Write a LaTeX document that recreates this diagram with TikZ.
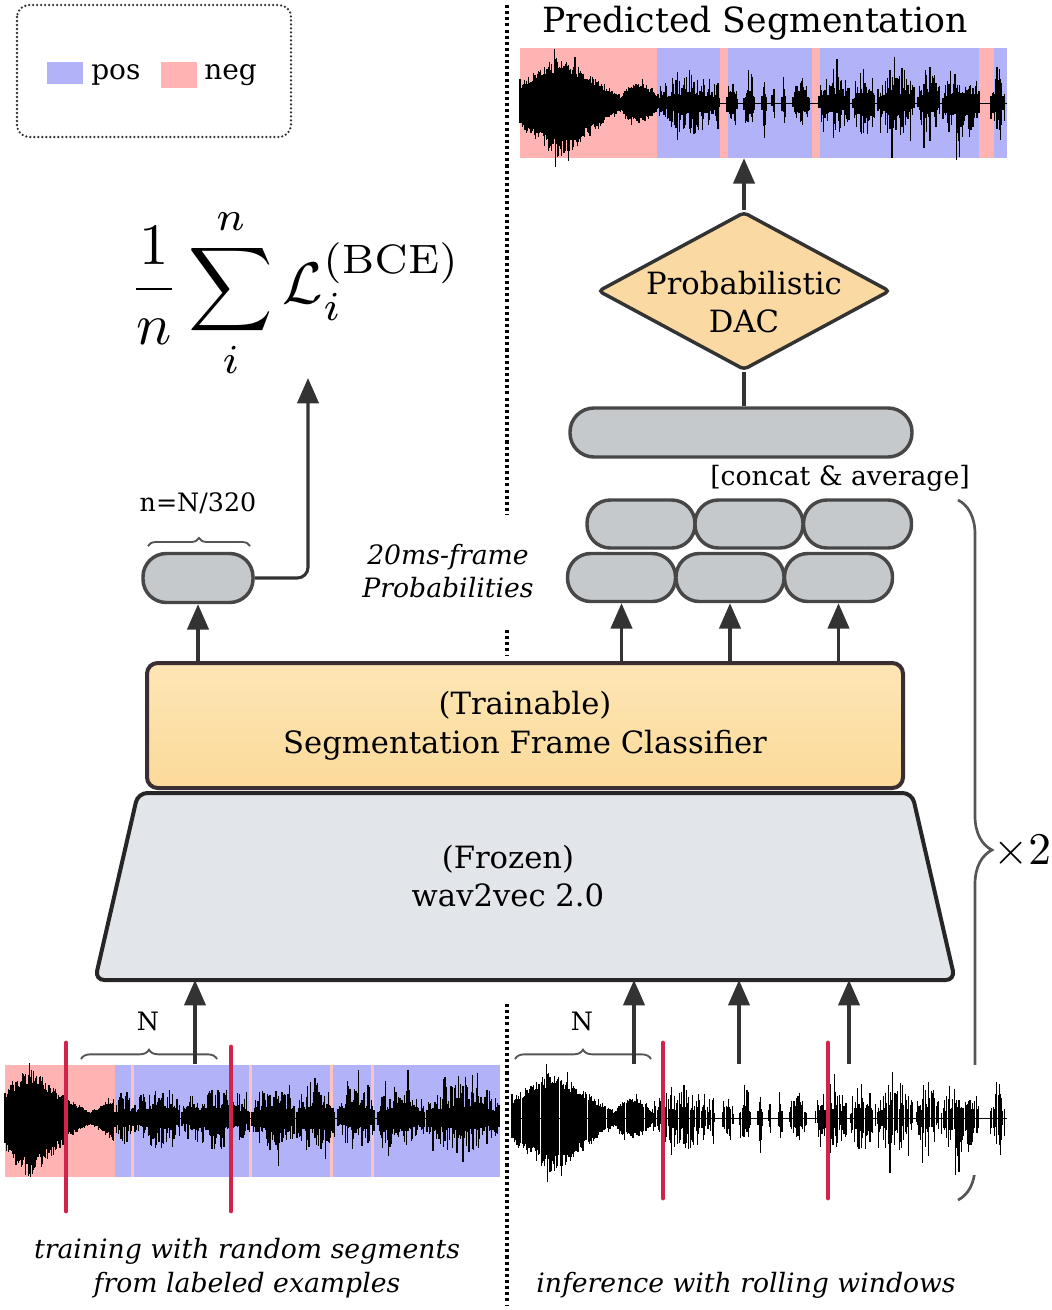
\documentclass[tikz,border=0pt]{standalone}
\usepackage{graphicx}
\usepackage[no-math]{fontspec}
\setmainfont{DejaVu Serif}
\usetikzlibrary{shapes.geometric,arrows.meta,decorations.pathreplacing,calc}
\definecolor{posc}{HTML}{B2B2F8}
\definecolor{negc}{HTML}{FFB3B3}
\definecolor{capf}{HTML}{C6C9CC}
\definecolor{edge}{HTML}{474747}
\definecolor{clfe}{HTML}{3A2E33}
\definecolor{clff}{HTML}{FCDFA2}
\definecolor{dacf}{HTML}{FADAA2}
\definecolor{w2vf}{HTML}{E2E5EA}
\definecolor{redl}{HTML}{D3234A}
\definecolor{arrc}{HTML}{333333}
\definecolor{brc}{HTML}{555555}

% waveform "A": sung intro then speech bursts (local width 487)
\newcommand\waveA[4]{%
\begin{scope}[shift={(#1,#3)},xscale=#2/487]
\pgfmathsetseed{#4}
\draw[line width=0.6pt] (0,0) -- (487,0);
\foreach \x in {0,1.1,...,138}{
  \pgfmathsetmacro\env{\x<100 ? 9+38*max(0,1-abs(\x-40)/58) : 7+13*sin((\x-100)/38*180)}
  \pgfmathsetmacro\ua{\env*(0.7+0.35*rnd)*(rnd>0.93 ? 1.25 : 1)}
  \pgfmathsetmacro\da{\env*(0.75+0.35*rnd)*(\x<100 ? 1.12 : 1)*(rnd>0.93 ? 1.2 : 1)}
  \draw[wavel] (\x,-\ua) -- (\x,\da);
}
\foreach \a/\b/\h in {138/200/34,207/218/32,224/235/34,242/247/26,252/255/24,262/266/28,273/290/32,299/330/36,333/355/38,358/395/38,398/420/36,423/459/40,471/485/38}{
  \pgfmathsetmacro\ae{\a+1.2}
  \foreach \x in {\a,\ae,...,\b}{
    \pgfmathsetmacro\s{0.45+0.55*sin((\x-\a)/(\b-\a+0.01)*180)}
    \pgfmathsetmacro\ua{\h*\s*(0.25+0.75*rnd^1.5)*(rnd>0.9 ? 1.4 : 1)}
    \pgfmathsetmacro\da{\h*\s*(0.25+0.75*rnd^1.5)*(rnd>0.88 ? 1.6 : 1)}
    \draw[wavel] (\x,-\ua) -- (\x,\da);
  }
}
\end{scope}}

% waveform "B": training example (local width 495)
\newcommand\waveB[3]{%
\begin{scope}[shift={(#1,#2)}]
\pgfmathsetseed{#3}
\draw[line width=0.6pt] (0,0) -- (495,0);
\foreach \x in {0,1.1,...,110}{
  \pgfmathsetmacro\env{\x<60 ? 18+32*max(0,1-abs(\x-25)/38) : 6+16*abs((\x-85)/25)}
  \pgfmathsetmacro\ua{\env*(0.7+0.35*rnd)*(rnd>0.93 ? 1.25 : 1)}
  \pgfmathsetmacro\da{\env*(0.75+0.35*rnd)*(\x<60 ? 1.12 : 1)}
  \draw[wavel] (\x,-\ua) -- (\x,\da);
}
\foreach \a/\b/\h in {110/128/28,130/175/32,177/245/32,247/290/34,292/330/36,333/370/32,373/420/34,422/495/36}{
  \pgfmathsetmacro\ae{\a+1.2}
  \foreach \x in {\a,\ae,...,\b}{
    \pgfmathsetmacro\s{0.55+0.45*sin((\x-\a)/(\b-\a+0.01)*180)}
    \pgfmathsetmacro\ua{\h*\s*(0.3+0.7*rnd^1.5)*(rnd>0.9 ? 1.5 : 1)}
    \pgfmathsetmacro\da{\h*\s*(0.3+0.7*rnd^1.5)*(rnd>0.9 ? 1.5 : 1)}
    \draw[wavel] (\x,-\ua) -- (\x,\da);
  }
}
\end{scope}}

\begin{document}
\begin{tikzpicture}[x=0.75pt,y=-0.75pt,
  arr/.style={draw=arrc, line width=2.3pt, -{Triangle[width=16pt,length=19pt]}},
  capsule/.style={draw=edge, line width=2.6pt, fill=capf, rounded corners=17.5pt, minimum width=81pt, minimum height=36pt, inner sep=0pt},
  wavel/.style={line width=0.8pt, black},
  redbar/.style={draw=redl, line width=3.6pt, line cap=round},
  br/.style={draw=brc, line width=1.4pt, decorate, decoration={brace, amplitude=#1}},
  dotsep/.style={line width=2.5pt, dash pattern=on 2.3pt off 2.3pt},
  txt/.style={inner sep=0pt, font=\fontsize{23}{29}\selectfont, align=center},
  itxt/.style={inner sep=0pt, font=\fontsize{20}{25}\selectfont\itshape, align=center},
]
\useasboundingbox (0,0) rectangle (1052,1310);

% ---------- legend ----------
\draw[line width=1.9pt, draw=black!80, dash pattern=on 0pt off 3pt, line cap=round, rounded corners=9pt] (17,5) rectangle (291,137);
\node[fill=posc, minimum width=27pt, minimum height=17pt, inner sep=0pt] (sp) at (65,73) {};
\node[fill=negc, minimum width=27pt, minimum height=20pt, inner sep=0pt] (sn) at (179,75) {};
\node[inner sep=0pt, font=\fontsize{21}{25}\selectfont, anchor=west] (tpos) at (91,75) {pos};
\node[inner sep=0pt, font=\fontsize{21}{25}\selectfont, anchor=west] (tneg) at (204,75) {neg};

% ---------- separators ----------
\draw[dotsep] (507,5) -- (507,515);
\draw[dotsep] (507,630) -- (507,655);
\draw[dotsep] (507,1004) -- (507,1306);

% ---------- x2 brace (behind right waveform) ----------
\draw[br=25.5pt, line width=2pt] (958,500) -- (958,1200);
\node[inner sep=0pt] (times) at (1022,852) {\scalebox{3.4}{$\times 2$}};

% ---------- predicted segmentation ----------
\node[inner sep=0pt, font=\fontsize{26}{32}\selectfont] (title) at (755,23) {Predicted Segmentation};
\fill[negc] (520,48) rectangle (657,158);
\fill[posc] (657,48) rectangle (720,158);
\fill[negc] (720,48) rectangle (728,158);
\fill[posc] (728,48) rectangle (812,158);
\fill[negc] (812,48) rectangle (820,158);
\fill[posc] (820,48) rectangle (979,158);
\fill[negc] (979,48) rectangle (994,158);
\fill[posc] (994,48) rectangle (1007,158);
\waveA{520}{487}{103}{11}
\node[minimum width=365.25pt, minimum height=82.5pt, inner sep=0pt] (pred) at (763.5,103) {};

% ---------- bottom-left training waveform ----------
\fill[negc] (5,1065) rectangle (115,1177);
\fill[posc] (115,1065) rectangle (500,1177);
\foreach \s in {131,249,330,371}{\fill[negc!80!white] (\s,1065) rectangle ++(3,112);}
\waveB{5}{1118}{5}
\node[minimum width=371.25pt, minimum height=84pt, inner sep=0pt] (wavL) at (252.5,1121) {};
\draw[redbar] (66,1043) -- (66,1211);
\draw[redbar] (231,1047) -- (231,1211);

% ---------- bottom-right inference waveform ----------
\fill[white] (512,1065) rectangle (1007,1175);
\waveA{512}{495}{1118}{11}
\node[minimum width=371.25pt, minimum height=82.5pt, inner sep=0pt] (wavR) at (759.5,1120) {};
\draw[redbar] (663,1043) -- (663,1198);
\draw[redbar] (828,1043) -- (828,1198);

% ---------- N braces ----------
\draw[br=7pt] (81,1059) -- (217,1059);
\node[inner sep=0pt, font=\fontsize{19}{22}\selectfont] (nL) at (148,1021) {N};
\draw[br=7pt] (515,1059) -- (651,1059);
\node[inner sep=0pt, font=\fontsize{19}{22}\selectfont] (nR) at (582,1021) {N};

% ---------- frozen wav2vec ----------
\coordinate (tl) at (138,793);
\coordinate (tr) at (912,793);
\coordinate (brr) at (955,980);
\coordinate (bl) at (95,980);
\draw[draw=black!85, line width=3pt, fill=w2vf, rounded corners=7pt] (tl) -- (tr) -- (brr) -- (bl) -- cycle;
\node[txt] (w2v) at (508,876) {(Frozen)\\wav2vec 2.0};

% ---------- classifier ----------
\node[draw=clfe, line width=3pt, top color=clff!80!white, bottom color=clff!95!orange, rounded corners=8pt,
      minimum width=567pt, minimum height=93.75pt, inner sep=0pt, txt] (clf) at (525,725.5)
      {(Trainable)\\Segmentation Frame Classifier};

% ---------- capsules ----------
\node[capsule, minimum width=82.5pt, minimum height=36.75pt] (capL) at (198,578) {};
\node[capsule] (t1) at (641,524) {};
\node[capsule] (t2) at (749,524) {};
\node[capsule] (t3) at (857.5,524) {};
\node[capsule] (b1) at (621.5,577.5) {};
\node[capsule] (b2) at (730,577.5) {};
\node[capsule] (b3) at (838.5,577.5) {};
\node[capsule, minimum width=256.5pt, minimum height=36.75pt, rounded corners=18pt] (long) at (741,432.5) {};

\node[inner sep=0pt, font=\fontsize{20}{24}\selectfont, anchor=east] (concat) at (970,478) {[concat \& average]};
\node[inner sep=0pt, font=\fontsize{19}{22}\selectfont] (nlab) at (198,503) {n=N/320};
\draw[br=6pt] (148,546) -- (250,546);
\node[itxt] (prob) at (448,571) {20ms-frame\\Probabilities};

% ---------- DAC ----------
\node[diamond, draw=black!80, line width=2.6pt, fill=dacf, minimum width=219pt, minimum height=118.5pt, inner sep=0pt, rounded corners=3pt] (dac) at (744,291) {};
\node[txt] (dact) at (744,302) {Probabilistic\\DAC};

% ---------- loss ----------
\node[inner sep=0pt] (loss) at (295,293) {\scalebox{4.4}{$\displaystyle\frac{1}{n}\sum_{i}^{n}\mathcal{L}_{i}^{(\mathrm{BCE})}$}};
\coordinate (lossin) at (308,378);

% ---------- captions ----------
\node[itxt] (capT) at (247,1268) {training with random segments\\from labeled examples};
\node[itxt] (capI) at (746,1285) {inference with rolling windows};

% ---------- connectors ----------
\draw[arr] (dac.north) -- (dac.north |- pred.south);
\draw[draw=arrc, line width=2.3pt] (dac.south) -- (long.north -| dac.south);
\draw[arr] (clf.north -| b1.south) -- (b1.south);
\draw[arr] (clf.north -| b2.south) -- (b2.south);
\draw[arr] (clf.north -| b3.south) -- (b3.south);
\draw[arr] (clf.north -| capL.south) -- (capL.south);
\draw[arr, rounded corners=8pt] (capL.east) -| (lossin);

\coordinate (aL) at (195,1064);
\coordinate (a1) at (634,1064);
\coordinate (a2) at (739,1064);
\coordinate (a3) at (849,1064);
\draw[arr] (aL) -- (aL |- bl);
\draw[arr] (a1) -- (a1 |- bl);
\draw[arr] (a2) -- (a2 |- bl);
\draw[arr] (a3) -- (a3 |- bl);
\end{tikzpicture}
\end{document}
